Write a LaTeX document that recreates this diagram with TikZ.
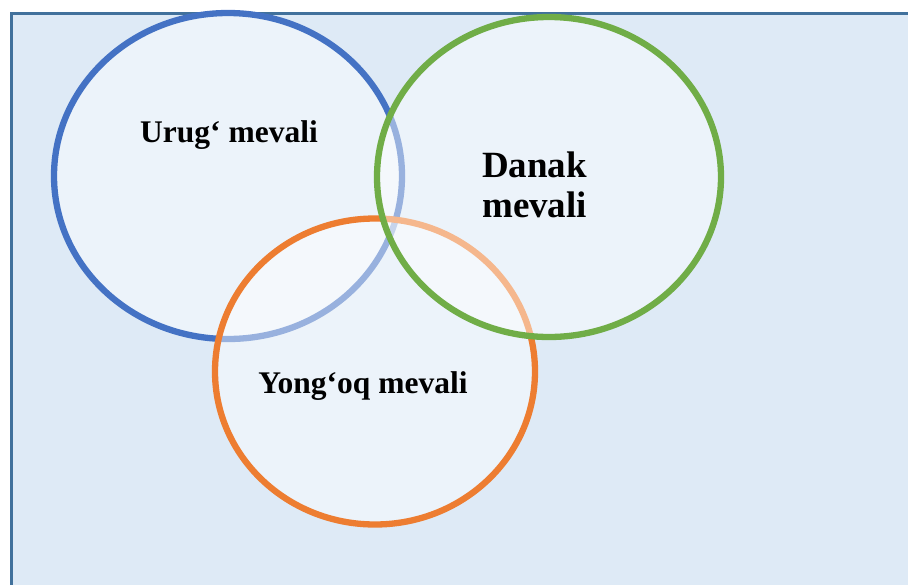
\documentclass[tikz,border=0pt]{standalone}
\usepackage{fontspec}
\setmainfont{Liberation Serif}
\definecolor{bgfill}{RGB}{222,234,246}
\definecolor{bgline}{RGB}{65,113,156}
\definecolor{cblue}{RGB}{68,114,196}
\definecolor{cgreen}{RGB}{112,173,71}
\definecolor{corange}{RGB}{237,125,49}
\begin{document}
\begin{tikzpicture}[x=1pt,y=-1pt,
  venn/.style={line width=6.3pt, fill=white, fill opacity=0.45, draw opacity=1},
  lbl/.style={font=\bfseries\fontsize{31.5}{36}\selectfont, inner sep=0pt, anchor=base},
  lblbig/.style={font=\bfseries\fontsize{37}{40}\selectfont, inner sep=0pt, anchor=base west}]
  \useasboundingbox (0,0) rectangle (908,584);
  \clip (0,0) rectangle (908,584);
  \path[fill=bgfill, draw=bgline, line width=3pt] (11,13) rectangle (930,610);
  \path[venn, draw=cblue] (228,176) ellipse [x radius=174, y radius=163];
  \path[venn, draw=corange] (375,371.5) ellipse [x radius=160, y radius=153];
  \path[venn, draw=cgreen] (549,177) ellipse [x radius=172, y radius=160];
  \node[lbl] (urug) at (229,142) {Urug‘ mevali};
  \node[lbl] (yongoq) at (363,393) {Yong‘oq mevali};
  \node[lblbig] (danak1) at (482,177) {Danak};
  \node[lblbig] (danak2) at (482,217) {mevali};
\end{tikzpicture}
\end{document}
